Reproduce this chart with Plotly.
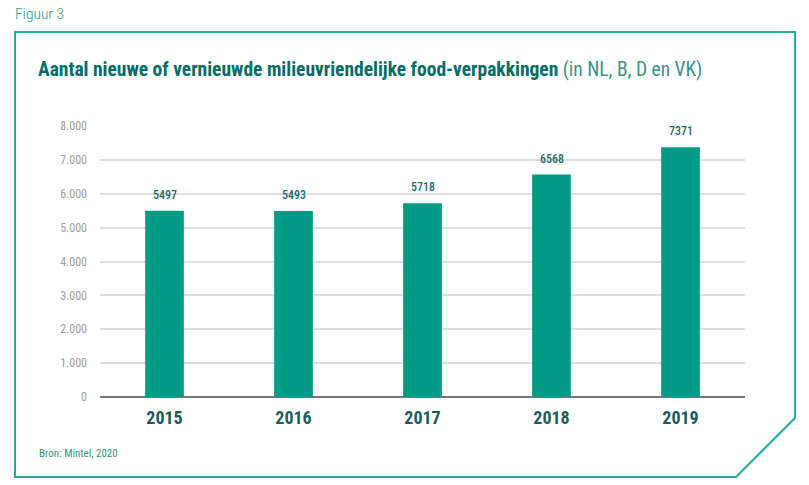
import plotly.graph_objects as go

# data
years = ["2015", "2016", "2017", "2018", "2019"]
counts = [5497, 5493, 5718, 6568, 7371]
y_ticks = [0, 1000, 2000, 3000, 4000, 5000, 6000, 7000, 8000]

W, H = 809, 485
L, R, T, B = 100, 64, 126, 88
FONT = "Roboto Condensed, Roboto, Liberation Sans, sans-serif"
TEAL = "#009b86"
BORDER = "#2aa898"


def px(x, y):
    # pixel position -> paper coords of the plot area
    return (x - L) / (W - L - R), (H - B - y) / (H - T - B)


fig = go.Figure()
fig.add_trace(go.Bar(
    x=years, y=counts,
    marker=dict(color=TEAL, line=dict(width=0)),
    hoverinfo="skip",
))

# value labels above the bars (category index as x, numeric-looking names confuse plotly)
for i, c in enumerate(counts):
    fig.add_annotation(x=i, y=c, text=str(c), showarrow=False,
                       yanchor="bottom", yshift=7,
                       font=dict(family=FONT, size=12, color="#1d6b68", weight=500))

# frame with cut corner bottom right
pts = [px(15, 32), px(795, 32), px(795, 418), px(736, 477), px(15, 477)]
path = "M " + " L ".join(f"{a:.4f},{b:.4f}" for a, b in pts) + " Z"
fig.add_shape(type="path", path=path, xref="paper", yref="paper",
              line=dict(color=BORDER, width=2), layer="below")

fig.add_annotation(text="Figuur 3", xref="paper", yref="paper",
                   x=px(13, 14)[0], y=px(13, 14)[1], xanchor="left", yanchor="middle",
                   showarrow=False, font=dict(family=FONT, size=15.5, color="#2a9d90", weight=300))
fig.add_annotation(
    text="<b>Aantal nieuwe of vernieuwde milieuvriendelijke food-verpakkingen</b>"
         "<span style='color:#3a918b'> (in NL, B, D en VK)</span>",
    xref="paper", yref="paper", x=px(36, 70)[0], y=px(36, 70)[1],
    xanchor="left", yanchor="middle", showarrow=False,
    font=dict(family=FONT, size=19.5, color="#006e66"))
fig.add_annotation(text="Bron: Mintel, 2020", xref="paper", yref="paper",
                   x=px(37, 453)[0], y=px(37, 453)[1], xanchor="left", yanchor="middle",
                   showarrow=False, font=dict(family=FONT, size=11, color="#3a918b"))

fig.update_layout(
    width=W, height=H,
    margin=dict(l=L, r=R, t=T, b=B),
    paper_bgcolor="white", plot_bgcolor="white",
    bargap=0.7, showlegend=False,
    separators=",.",
    font=dict(family=FONT),
)
fig.update_xaxes(
    type="category", showgrid=False, showline=False,
    tickfont=dict(family=FONT, size=18, color="#1b5c5a", weight="bold"),
    ticklabelstandoff=8,
)
fig.update_yaxes(
    range=[0, 8000], tickvals=y_ticks, tickformat=",d",
    showgrid=True, gridcolor="#dedede", gridwidth=1.5,
    zeroline=True, zerolinecolor="#777777", zerolinewidth=2,
    tickfont=dict(family=FONT, size=12, color="#a39c9c"),
    ticklabelstandoff=12,
)

fig.write_html("out.html", config={"displayModeBar": False},
               post_script="document.body.style.margin='0';")
